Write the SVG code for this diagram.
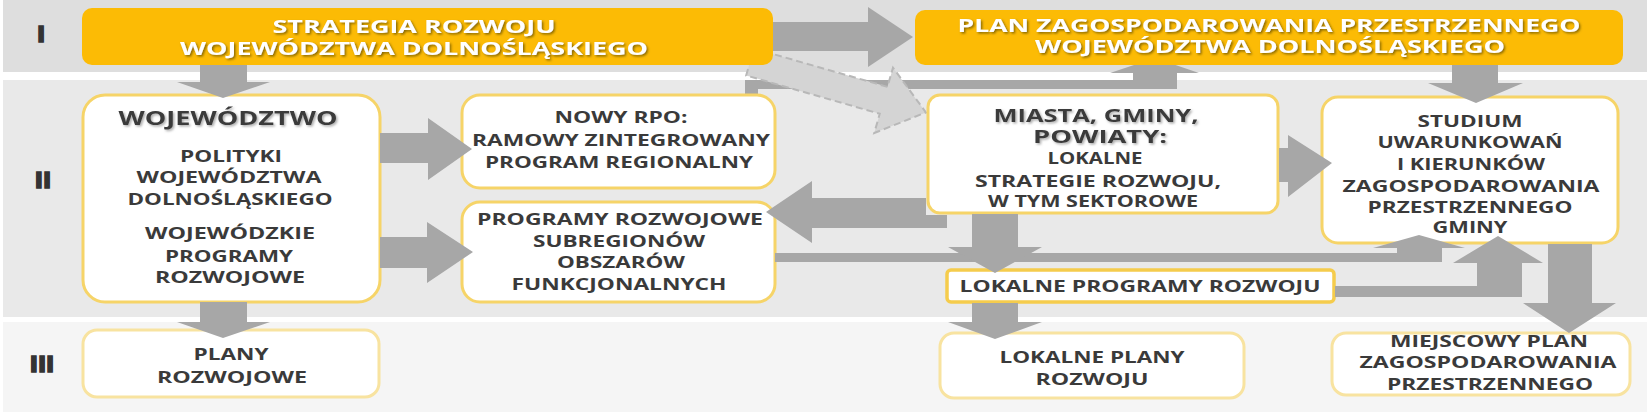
<svg xmlns="http://www.w3.org/2000/svg" width="1651" height="416" viewBox="0 0 1651 416">
<defs>
<style>
.band1{fill:#dedede}.band2{fill:#e9e9e9}.band3{fill:#f5f5f5}
.title{fill:#fcbb05}
.box{fill:#fff;stroke:#f6d468;stroke-width:3}
.box3{fill:#fff;stroke:#f8e3a0;stroke-width:3}
.arr{fill:#a7a7a7}
.dash{fill:#d4d4d4;stroke:#b8b8b8;stroke-width:2;stroke-dasharray:7 4}
text{font-family:"Open Sans","Liberation Sans",sans-serif;font-weight:bold;text-anchor:middle}
.t{font-size:16.5px;fill:#3a3a3a}
.tw{font-size:17px;fill:#fff}
.tb{font-size:20px;fill:#3a3a3a}
.tm{font-size:17.5px;fill:#3a3a3a}
.rn{font-family:"DejaVu Sans",sans-serif;font-size:22px;fill:#333;stroke:#333;stroke-width:1.6}
</style>
<filter id="shW" x="-5%" y="-30%" width="110%" height="160%"><feDropShadow dx="1.5" dy="1.5" stdDeviation="0.8" flood-color="#6b5200" flood-opacity="0.8"/></filter>
<filter id="shD" x="-5%" y="-30%" width="110%" height="160%"><feDropShadow dx="1.5" dy="1.5" stdDeviation="1" flood-color="#888" flood-opacity="0.7"/></filter>
</defs>
<rect width="1651" height="416" fill="#fff"/>
<g id="bands">
<rect class="band1" x="3" y="0" width="1644" height="72"/>
<rect class="band2" x="3" y="80" width="1644" height="237"/>
<rect class="band3" x="3" y="322" width="1644" height="90"/>
<text class="rn" x="41" y="42">I</text>
<text class="rn" x="43" y="188">II</text>
<text class="rn" x="42" y="372">III</text>
</g>
<g id="connectors-under">
<polygon class="arr" points="745,95 745,80 1133,80 1133,73 1110,73 1155,58 1199,73 1177,73 1177,89 758,89 758,95"/>
<g transform="translate(750,62) rotate(16)"><polygon class="dash" points="0,-14 139,-14 139,-34 183,0 139,34 139,14 0,14"/></g>
</g>
<g id="n-strategia"><rect class="title" x="82" y="8" width="691" height="57" rx="10"/>
<text class="tw" filter="url(#shW)" x="414" y="33" textLength="283" lengthAdjust="spacingAndGlyphs">STRATEGIA ROZWOJU</text>
<text class="tw" filter="url(#shW)" x="414" y="55" textLength="468" lengthAdjust="spacingAndGlyphs">WOJEWÓDZTWA DOLNOŚLĄSKIEGO</text></g>
<g id="n-pzp"><rect class="title" x="915" y="10" width="708" height="55" rx="10"/>
<text class="tw" filter="url(#shW)" x="1269" y="32" textLength="623" lengthAdjust="spacingAndGlyphs">PLAN ZAGOSPODAROWANIA PRZESTRZENNEGO</text>
<text class="tw" filter="url(#shW)" x="1270" y="53" textLength="470" lengthAdjust="spacingAndGlyphs">WOJEWÓDZTWA DOLNOŚLĄSKIEGO</text></g>
<g id="n-woj"><rect class="box" x="83" y="95" width="297" height="207" rx="22"/>
<text class="tb" filter="url(#shD)" x="228" y="125" textLength="219" lengthAdjust="spacingAndGlyphs">WOJEWÓDZTWO</text>
<text class="t" x="231" y="162" textLength="102" lengthAdjust="spacingAndGlyphs">POLITYKI</text>
<text class="t" x="229" y="183" textLength="185" lengthAdjust="spacingAndGlyphs">WOJEWÓDZTWA</text>
<text class="t" x="230" y="205" textLength="205" lengthAdjust="spacingAndGlyphs">DOLNOŚLĄSKIEGO</text>
<text class="t" x="230" y="239" textLength="170" lengthAdjust="spacingAndGlyphs">WOJEWÓDZKIE</text>
<text class="t" x="229" y="262" textLength="128" lengthAdjust="spacingAndGlyphs">PROGRAMY</text>
<text class="t" x="230" y="283" textLength="150" lengthAdjust="spacingAndGlyphs">ROZWOJOWE</text></g>
<g id="n-rpo"><rect class="box" x="462" y="95" width="313" height="93" rx="18"/>
<text class="t" x="621" y="123" textLength="133" lengthAdjust="spacingAndGlyphs">NOWY RPO:</text>
<text class="t" x="621" y="146" textLength="298" lengthAdjust="spacingAndGlyphs">RAMOWY ZINTEGROWANY</text>
<text class="t" x="619" y="168" textLength="268" lengthAdjust="spacingAndGlyphs">PROGRAM REGIONALNY</text></g>
<g id="n-prog"><rect class="box" x="462" y="202" width="313" height="100" rx="18"/>
<text class="t" x="620" y="225" textLength="286" lengthAdjust="spacingAndGlyphs">PROGRAMY ROZWOJOWE</text>
<text class="t" x="619" y="247" textLength="172" lengthAdjust="spacingAndGlyphs">SUBREGIONÓW</text>
<text class="t" x="621" y="268" textLength="128" lengthAdjust="spacingAndGlyphs">OBSZARÓW</text>
<text class="t" x="619" y="290" textLength="215" lengthAdjust="spacingAndGlyphs">FUNKCJONALNYCH</text></g>
<g id="n-plany"><rect class="box3" x="83" y="330" width="296" height="67" rx="14"/>
<text class="t" x="231" y="360" textLength="75" lengthAdjust="spacingAndGlyphs">PLANY</text>
<text class="t" x="232" y="383" textLength="150" lengthAdjust="spacingAndGlyphs">ROZWOJOWE</text></g>
<g id="n-miasta"><rect class="box" x="928" y="95" width="350" height="118" rx="12"/>
<text class="tm" filter="url(#shD)" x="1096" y="122" textLength="205" lengthAdjust="spacingAndGlyphs">MIASTA, GMINY,</text>
<text class="tm" filter="url(#shD)" x="1100" y="143" textLength="134" lengthAdjust="spacingAndGlyphs">POWIATY:</text>
<text class="t" x="1095" y="164" textLength="95" lengthAdjust="spacingAndGlyphs">LOKALNE</text>
<text class="t" x="1098" y="187" textLength="246" lengthAdjust="spacingAndGlyphs">STRATEGIE ROZWOJU,</text>
<text class="t" x="1093" y="207" textLength="210" lengthAdjust="spacingAndGlyphs">W TYM SEKTOROWE</text></g>
<g id="n-studium"><rect class="box" x="1322" y="97" width="296" height="146" rx="16"/>
<text class="t" x="1470" y="127" textLength="105" lengthAdjust="spacingAndGlyphs">STUDIUM</text>
<text class="t" x="1470" y="148" textLength="185" lengthAdjust="spacingAndGlyphs">UWARUNKOWAŃ</text>
<text class="t" x="1471" y="170" textLength="148" lengthAdjust="spacingAndGlyphs">I KIERUNKÓW</text>
<text class="t" x="1471" y="192" textLength="257" lengthAdjust="spacingAndGlyphs">ZAGOSPODAROWANIA</text>
<text class="t" x="1470" y="213" textLength="205" lengthAdjust="spacingAndGlyphs">PRZESTRZENNEGO</text>
<text class="t" x="1470" y="233" textLength="75" lengthAdjust="spacingAndGlyphs">GMINY</text></g>
<g id="n-lpr"><rect class="box" x="947" y="270" width="387" height="32" rx="4" style="stroke:#f5cc4c;stroke-width:3.5"/>
<text class="t" x="1140" y="292" textLength="361" lengthAdjust="spacingAndGlyphs">LOKALNE PROGRAMY ROZWOJU</text></g>
<g id="n-lplany"><rect class="box3" x="940" y="333" width="304" height="65" rx="14"/>
<text class="t" x="1092" y="363" textLength="185" lengthAdjust="spacingAndGlyphs">LOKALNE PLANY</text>
<text class="t" x="1092" y="385" textLength="113" lengthAdjust="spacingAndGlyphs">ROZWOJU</text></g>
<g id="n-miejscowy"><rect class="box3" x="1332" y="333" width="298" height="62" rx="14"/>
<text class="t" x="1489" y="347" textLength="198" lengthAdjust="spacingAndGlyphs">MIEJSCOWY PLAN</text>
<text class="t" x="1488" y="368" textLength="257" lengthAdjust="spacingAndGlyphs">ZAGOSPODAROWANIA</text>
<text class="t" x="1490" y="390" textLength="206" lengthAdjust="spacingAndGlyphs">PRZESTRZENNEGO</text></g>
<g id="connectors">
<polygon class="arr" points="773,22 868,22 868,7 913,37 868,67 868,51 773,51"/>
<polygon class="arr" points="200,65 247,65 247,82 270,82 223,98 177,82 200,82"/>
<polygon class="arr" points="200,302 247,302 247,322 270,322 223,338 177,322 200,322"/>
<polygon class="arr" points="380,133 428,133 428,118 472,149 428,180 428,163 380,163"/>
<polygon class="arr" points="380,237 427,237 427,222 473,252 427,283 427,268 380,268"/>
<polygon class="arr" points="766,212 812,181 812,198 926,198 926,215 947,215 947,228 812,228 812,243"/>
<polygon class="arr" points="775,253 1397,253 1397,248 1373,248 1419,235 1465,248 1442,248 1442,262 775,262"/>
<polygon class="arr" points="972,214 1018,214 1018,247 1042,247 995,273 948,247 972,247"/>
<polygon class="arr" points="972,303 1018,303 1018,322 1042,322 995,339 948,322 972,322"/>
<polygon class="arr" points="1279,148 1288,148 1288,135 1332,163 1288,197 1288,182 1279,182"/>
<polygon class="arr" points="1452,65 1498,65 1498,83 1523,83 1476,103 1428,83 1452,83"/>
<polygon class="arr" points="1335,286 1477,286 1477,263 1453,263 1498,236 1543,263 1522,263 1522,297 1335,297"/>
<polygon class="arr" points="1548,244 1592,244 1592,303 1616,303 1569,333 1523,303 1548,303"/>
</g>
</svg>
